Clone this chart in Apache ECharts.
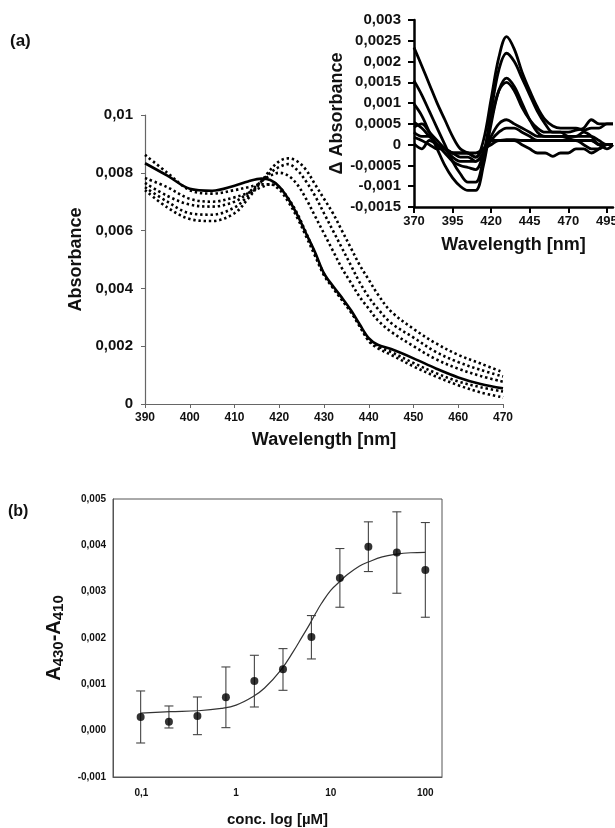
<!DOCTYPE html>
<html>
<head>
<meta charset="utf-8">
<script src="https://cdn.jsdelivr.net/npm/echarts@6/dist/echarts.min.js"></script>
<style>
html,body{margin:0;padding:0;background:#fff;}
#c{width:615px;height:828px;}
</style>
</head>
<body>
<div id="c"></div>
<script>
// ---------- Panel (a) main: absorbance spectra ----------
const mainNm = [390,395,400,405,410,413,416,418,420,422,424,426,428,430,432,434,436,438,440,442,445,450,455,460,465,470];
const mainSolid = [0.00833,0.00790,0.00745,0.00738,0.00755,0.00770,0.00780,0.00775,0.00752,0.00710,0.00655,0.00590,0.00525,0.00452,0.00408,0.00368,0.00325,0.00275,0.00228,0.00205,0.00190,0.00158,0.00123,0.00092,0.00069,0.00054];
const mainDot1 = [0.00862,0.00800,0.00740,0.00728,0.00740,0.00750,0.00760,0.00760,0.00742,0.00700,0.00645,0.00580,0.00512,0.00445,0.00402,0.00362,0.00320,0.00270,0.00222,0.00200,0.00180,0.00142,0.00107,0.00078,0.00058,0.00043];
const mainDot2 = [0.00782,0.00750,0.00710,0.00700,0.00715,0.00730,0.00750,0.00760,0.00750,0.00712,0.00660,0.00592,0.00520,0.00450,0.00402,0.00360,0.00318,0.00268,0.00218,0.00193,0.00170,0.00130,0.00095,0.00065,0.00040,0.00023];
const mainDot3 = [0.00765,0.00720,0.00690,0.00683,0.00700,0.00730,0.00770,0.00790,0.00800,0.00790,0.00760,0.00710,0.00650,0.00590,0.00530,0.00470,0.00420,0.00370,0.00330,0.00290,0.00250,0.00200,0.00155,0.00122,0.00097,0.00077];
const mainDot4 = [0.00750,0.00700,0.00660,0.00655,0.00680,0.00720,0.00770,0.00800,0.00820,0.00830,0.00810,0.00770,0.00720,0.00660,0.00600,0.00540,0.00480,0.00420,0.00370,0.00330,0.00280,0.00230,0.00180,0.00145,0.00118,0.00095];
const mainDot5 = [0.00740,0.00680,0.00640,0.00633,0.00660,0.00710,0.00770,0.00810,0.00840,0.00850,0.00840,0.00810,0.00760,0.00710,0.00660,0.00600,0.00540,0.00480,0.00430,0.00380,0.00320,0.00260,0.00210,0.00170,0.00140,0.00110];

// ---------- Panel (a) inset: difference spectra ----------
const insetNm = [370,375,380,385,390,395,400,405,410,415,420,425,430,435,440,445,450,455,460,465,470,475,480,485,490,495,499];
const insetXTicks = [370,395,420,445,470,495];
const diff1 = [0.00234,0.0019,0.00145,0.0010,0.0006,0.0002,-0.0001,-0.0002,-0.0003,0.0001,0.0011,0.0021,0.0026,0.0023,0.00175,0.0013,0.0009,0.0006,0.00045,0.0004,0.0004,0.0004,0.00035,0.0004,0.0004,0.0005,0.0005];
const diff2 = [0.00154,0.0012,0.0008,0.0004,0.0000,-0.0004,-0.0007,-0.0009,-0.0009,-0.0003,0.0008,0.0018,0.0022,0.0020,0.0016,0.0012,0.0008,0.0005,0.0003,0.0003,0.0003,0.00035,0.0004,0.0006,0.0005,0.0005,0.0005];
const diff3 = [0.00098,0.0007,0.0003,-0.0001,-0.0005,-0.0008,-0.0010,-0.0011,-0.0011,-0.0005,0.0005,0.0013,0.0016,0.0014,0.0010,0.0006,0.0003,0.0002,0.0002,0.0002,0.00015,0.0001,0.0001,0.0001,0.0000,0.0000,0.0000];
const diff4 = [0.00054,0.0004,0.0002,0.0000,-0.0002,-0.0004,-0.0005,-0.00055,-0.0006,-0.0002,0.0006,0.0013,0.0015,0.0013,0.0009,0.0006,0.0004,0.0003,0.0003,0.0003,0.0002,0.0002,0.0002,0.0002,0.0001,0.0000,0.0000];
const diff5 = [0.00042,0.0005,0.0003,0.0001,-0.0001,-0.0003,-0.0004,-0.0004,-0.0004,-0.0002,0.0002,0.0005,0.0006,0.0005,0.0004,0.0003,0.0002,0.0002,0.0002,0.0002,0.0002,0.0002,0.0003,0.0002,0.0000,0.0000,0.0000];
const diff6 = [0.0003,0.0002,0.0002,0.0000,-0.0001,-0.0002,-0.0003,-0.0003,-0.0004,-0.0002,0.0001,0.0003,0.0004,0.0004,0.0003,0.0002,0.0001,0.0001,0.0001,0.0001,0.0001,0.0001,0.0001,0.0001,0.0000,-0.0001,0.0000];
const diff7 = [0.00018,0.0001,0.0000,-0.0001,-0.0001,-0.0002,-0.0002,-0.0002,-0.0003,-0.0001,0.0001,0.0001,0.00012,0.00012,0.0001,0.0001,0.0001,0.0001,0.0001,0.0001,0.0001,0.0001,0.0000,-0.0001,-0.0001,0.0000,0.0000];
const diff8 = [0.00002,-0.0001,0.0001,0.0000,-0.0001,-0.0002,-0.0002,-0.0002,-0.0002,-0.0001,0.0000,0.0001,0.0001,0.0001,0.0000,-0.0001,-0.0002,-0.0002,-0.00028,-0.0002,-0.0002,-0.0001,-0.0001,-0.0002,-0.0001,0.0000,0.0000];

// ---------- Panel (b): titration ----------
const conc = [0.098,0.195,0.39,0.78,1.56,3.13,6.25,12.5,25,50,100];
const deltaA = [0.000295,0.000194,0.000317,0.00072,0.001073,0.001325,0.002023,0.003297,0.003967,0.003845,0.00347];
const errTop = [0.000857,0.000533,0.000727,0.001375,0.001627,0.001771,0.002484,0.003931,0.004507,0.004723,0.004492];
const errBottom = [-0.000266,0.000058,-0.000086,0.000065,0.000511,0.000871,0.001548,0.002664,0.003434,0.002966,0.002448];
const fitConc = [0.098,0.2,0.4,0.7,1,1.5,2,3,4,5,6,7,8,10,12.5,15,20,25,35,50,70,100];
const fitVal = [0.00038,0.00041,0.00043,0.00048,0.00055,0.00073,0.00092,0.00132,0.00170,0.00203,0.00230,0.00255,0.00275,0.00303,0.00322,0.00337,0.00355,0.00364,0.00375,0.00381,0.00384,0.00385];
const bXTicks = [0.1,1,10,100];

const FONT = 'Liberation Sans, Arial, sans-serif';
const INK = '#111';

function pairs(xs, ys){ return xs.map((x,i)=>[x, ys[i]]); }
function comma(v, d){ return String(Number(v.toFixed(d))).replace('.', ','); }

const chart = echarts.init(document.getElementById('c'), null, {renderer:'canvas'});

const solidStyle = {color:'#000', width:2.6};
const dotStyle = {color:'#000', width:2.6, type:[2.4,2.8]};

const series = [];
// main
series.push({type:'line', xAxisIndex:0, yAxisIndex:0, data:pairs(mainNm, mainSolid), showSymbol:false, smooth:0.35, lineStyle:solidStyle, z:5});
[mainDot1, mainDot2, mainDot3, mainDot4, mainDot5].forEach(d=>{
  series.push({type:'line', xAxisIndex:0, yAxisIndex:0, data:pairs(mainNm, d), showSymbol:false, smooth:0.35, lineStyle:dotStyle, z:4});
});
// inset
[diff1, diff2, diff3, diff4, diff5, diff6, diff7, diff8].forEach(d=>{
  series.push({type:'line', xAxisIndex:1, yAxisIndex:1, data:pairs(insetNm, d), showSymbol:false, smooth:0.35, lineStyle:{color:'#000', width:2.8}});
});
// (b) error bars
series.push({
  type:'custom', xAxisIndex:2, yAxisIndex:2,
  data: conc.map((c,i)=>[c, errBottom[i], errTop[i]]),
  renderItem: function(params, api){
    const lo = api.coord([api.value(0), api.value(1)]);
    const hi = api.coord([api.value(0), api.value(2)]);
    const w = 4.5;
    const st = {stroke:'#444', lineWidth:1.1};
    return {type:'group', children:[
      {type:'line', shape:{x1:lo[0], y1:lo[1], x2:hi[0], y2:hi[1]}, style:st},
      {type:'line', shape:{x1:hi[0]-w, y1:hi[1], x2:hi[0]+w, y2:hi[1]}, style:st},
      {type:'line', shape:{x1:lo[0]-w, y1:lo[1], x2:lo[0]+w, y2:lo[1]}, style:st}
    ]};
  },
  z:2
});
series.push({type:'line', xAxisIndex:2, yAxisIndex:2, data:pairs(fitConc, fitVal), showSymbol:false, smooth:0.4, lineStyle:{color:'#333', width:1.2}, z:3});
series.push({type:'scatter', xAxisIndex:2, yAxisIndex:2, data:pairs(conc, deltaA), symbol:'circle', symbolSize:8, itemStyle:{color:'#000'}, z:4});

const option = {
  animation:false,
  backgroundColor:'#fff',
  textStyle:{fontFamily:FONT},
  grid:[
    {left:145, top:115, width:358, height:289, outerBoundsMode:'none', containLabel:false},
    {left:414, top:20, width:199, height:187, outerBoundsMode:'none', containLabel:false},
    {left:113, top:499, width:329, height:278, outerBoundsMode:'none', containLabel:false, show:true, borderColor:'#555', borderWidth:1}
  ],
  xAxis:[
    {gridIndex:0, type:'value', min:390, max:470, interval:10,
     axisLine:{show:true, onZero:false, lineStyle:{color:'#666', width:1.2}},
     axisTick:{show:true, length:4, lineStyle:{color:'#666'}},
     splitLine:{show:false},
     axisLabel:{color:INK, fontWeight:'bold', fontSize:12, margin:8, fontFamily:FONT},
     name:'Wavelength [nm]', nameLocation:'middle', nameGap:27,
     nameTextStyle:{color:INK, fontWeight:'bold', fontSize:18, fontFamily:FONT}},
    {gridIndex:1, type:'value', min:370, max:499,
     axisLine:{show:true, onZero:false, lineStyle:{color:'#000', width:2.5}},
     axisTick:{show:true, length:6, lineStyle:{color:'#000', width:2}, customValues:insetXTicks},
     splitLine:{show:false},
     axisLabel:{color:INK, fontWeight:'bold', fontSize:13, margin:8, fontFamily:FONT, customValues:insetXTicks},
     name:'Wavelength [nm]', nameLocation:'middle', nameGap:29,
     nameTextStyle:{color:INK, fontWeight:'bold', fontSize:18, fontFamily:FONT}},
    {gridIndex:2, type:'log', logBase:10, min:0.05, max:150,
     axisLine:{show:true, onZero:false, lineStyle:{color:'#555', width:1}},
     axisTick:{show:false},
     splitLine:{show:false},
     minorTick:{show:false}, minorSplitLine:{show:false},
     axisLabel:{color:INK, fontWeight:'bold', fontSize:10, margin:11, fontFamily:FONT, customValues:bXTicks,
       formatter:function(v){ return comma(v, 4); }},
     name:'conc. log [µM]', nameLocation:'middle', nameGap:35,
     nameTextStyle:{color:INK, fontWeight:'bold', fontSize:15, fontFamily:FONT}}
  ],
  yAxis:[
    {gridIndex:0, type:'value', min:0, max:0.01, interval:0.002,
     axisLine:{show:true, onZero:false, lineStyle:{color:'#666', width:1.2}},
     axisTick:{show:true, length:4, lineStyle:{color:'#666'}},
     splitLine:{show:false},
     axisLabel:{color:INK, fontWeight:'bold', fontSize:15, margin:12, fontFamily:FONT,
       formatter:function(v){ return comma(v, 4); }},
     name:'Absorbance', nameLocation:'middle', nameGap:57, nameRotate:90,
     nameTextStyle:{color:INK, fontWeight:'bold', fontSize:18, fontFamily:FONT}},
    {gridIndex:1, type:'value', min:-0.0015, max:0.003, interval:0.0005,
     axisLine:{show:true, onZero:false, lineStyle:{color:'#000', width:2.5}},
     axisTick:{show:true, length:6, lineStyle:{color:'#000', width:2}},
     splitLine:{show:false},
     axisLabel:{color:INK, fontWeight:'bold', fontSize:15, margin:13, fontFamily:FONT,
       formatter:function(v){ return comma(v, 5); }},
     name:'Δ Absorbance', nameLocation:'middle', nameGap:66, nameRotate:90,
     nameTextStyle:{color:INK, fontWeight:'bold', fontSize:18, fontFamily:FONT}},
    {gridIndex:2, type:'value', min:-0.001, max:0.005, interval:0.001,
     axisLine:{show:true, onZero:false, lineStyle:{color:'#555', width:1}},
     axisTick:{show:false},
     splitLine:{show:false},
     axisLabel:{color:INK, fontWeight:'bold', fontSize:10, margin:7, fontFamily:FONT,
       formatter:function(v){ return v.toFixed(3).replace('.', ','); }},
     name:'{a|A}{s|430}{a|-A}{s|410}', nameLocation:'middle', nameGap:35, nameRotate:90,
     nameTextStyle:{color:INK, fontWeight:'bold', fontFamily:FONT,
       rich:{a:{fontSize:20, fontWeight:'bold', color:INK, fontFamily:FONT, verticalAlign:'top', lineHeight:22},
             s:{fontSize:15, fontWeight:'bold', color:INK, fontFamily:FONT, verticalAlign:'bottom', lineHeight:22}}}}
  ],
  graphic:[
    {type:'text', left:10, top:33, style:{text:'(a)', fontSize:17, fontWeight:'bold', fill:INK, fontFamily:FONT}},
    {type:'text', left:8, top:504, style:{text:'(b)', fontSize:16, fontWeight:'bold', fill:INK, fontFamily:FONT}}
  ],
  series:series
};
chart.setOption(option);
</script>
</body>
</html>
